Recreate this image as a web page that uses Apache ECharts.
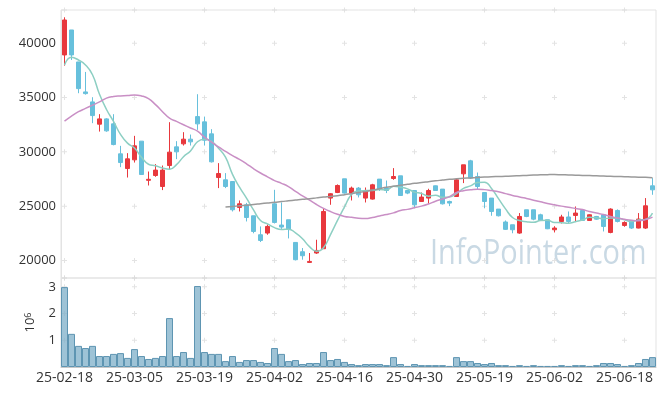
<!DOCTYPE html>
<html><head><meta charset="utf-8">
<script src="https://cdn.jsdelivr.net/npm/echarts@6/dist/echarts.min.js"></script>
<style>html,body{margin:0;padding:0;background:#fff}#c{width:665px;height:396px}</style>
</head><body><div id="c"></div>
<script>
const dates=['25-02-18','25-02-19','25-02-20','25-02-21','25-02-24','25-02-25','25-02-26','25-02-27','25-02-28','25-03-04',
'25-03-05','25-03-06','25-03-07','25-03-10','25-03-11','25-03-12','25-03-13','25-03-14','25-03-17','25-03-18',
'25-03-19','25-03-20','25-03-21','25-03-24','25-03-25','25-03-26','25-03-27','25-03-28','25-03-31','25-04-01',
'25-04-02','25-04-03','25-04-04','25-04-07','25-04-08','25-04-09','25-04-10','25-04-11','25-04-14','25-04-15',
'25-04-16','25-04-17','25-04-18','25-04-21','25-04-22','25-04-23','25-04-24','25-04-25','25-04-28','25-04-29',
'25-04-30','25-05-02','25-05-07','25-05-08','25-05-09','25-05-12','25-05-13','25-05-14','25-05-15','25-05-16',
'25-05-19','25-05-20','25-05-21','25-05-22','25-05-23','25-05-26','25-05-27','25-05-28','25-05-29','25-05-30',
'25-06-02','25-06-04','25-06-05','25-06-09','25-06-10','25-06-11','25-06-12','25-06-13','25-06-16','25-06-17',
'25-06-18','25-06-19','25-06-20','25-06-23','25-06-24'];
const openP=[38924,41224,38280,35520,34600,32548,33036,32576,29816,28463,
29264,30984,27378,27820,26807,28739,30460,30736,31168,33247,
32760,31656,27635,27424,27267,24876,25124,24112,22364,22520,
25214,23256,23744,21656,20800,19815,20680,21076,25740,26255,
27516,26200,26660,25740,25648,27488,26660,27544,27792,26440,
26440,25428,25740,26872,26568,25428,25888,27976,29172,27728,
26255,25740,24728,23540,23284,22520,24664,24664,24204,23744,
22824,23587,24000,24140,24600,23680,24048,24204,22576,24600,
23220,23680,22980,22980,26872];
const closeP=[42144,38924,35823,35363,33339,33036,31932,30671,29015,29356,
30552,27912,27470,28316,28316,29972,30000,31168,30920,32576,
31076,29080,28003,26807,24664,25214,23955,22667,21839,23128,
23495,23072,22888,20064,20432,19907,20919,24507,26140,26900,
26200,26660,26044,26347,26964,26596,26440,27728,25980,26200,
25124,25832,26440,26440,25212,25280,27424,28804,27580,26807,
25428,24507,24112,22860,22824,24048,24050,23800,23680,22916,
22980,24000,23587,24360,23680,24204,23800,23128,24728,23587,
23495,22980,23808,25030,26500];
const lowP=[37939,38464,35400,35270,32640,31867,31850,30600,28592,27635,
29015,27900,26900,27700,26476,28344,29328,30580,30580,32024,
30580,29015,26660,26660,24507,24507,23587,22500,21692,22364,
23400,22900,22024,20000,20064,19760,20600,21076,25124,26200,
26150,25520,25800,25336,25600,26400,26200,27424,25980,26100,
24880,25400,25212,26400,25150,25000,25888,27120,27500,26500,
24820,24112,24050,22800,22500,22450,23980,23700,23650,22880,
22576,23400,23400,23587,23650,23650,23750,22667,22500,23500,
23100,22900,22950,22900,26044];
const highP=[42392,41224,38280,37360,35032,33468,33100,33468,30552,29880,
31472,30984,28188,28868,28739,32732,30984,31812,31592,35308,
33247,32088,28960,28040,27267,25520,25300,24112,23128,23312,
26503,25336,23744,21656,21140,20680,21904,24820,26200,27000,
27516,26800,26760,26715,27055,27488,27360,28500,27792,26500,
26440,26255,26600,26900,26568,25500,27500,28804,29264,28096,
26255,25740,24728,23680,23284,24360,24664,24664,24300,23744,
23150,24204,24507,24968,24600,24250,24100,24204,24800,24700,
23600,23680,24360,25740,27580];
const ma5=[38000,38710,38460,38000,37100,35300,33900,32800,31600,30800,
30350,29500,28860,28720,28510,28400,28820,29550,30080,30930,
31150,30960,30330,29510,27930,26750,25730,24660,23670,23360,
23020,22840,22880,22530,21990,21270,20840,21170,22380,23680,
24930,26080,26390,26430,26440,26520,26480,26820,26740,26590,
26290,26170,25920,26010,25810,25840,26160,26630,26860,27180,
27210,26630,25690,24750,23950,23670,23570,23510,23670,23690,
23490,23480,23430,23570,23720,23970,23930,23830,23910,23890,
23750,23580,23720,23780,24360];
const ma20=[32830,33300,33700,34000,34300,34600,34950,35100,35150,35180,
35240,35150,34900,34350,33700,33100,32800,32500,32200,31900,
31350,30900,30450,30050,29650,29300,28900,28450,28050,27700,
27350,27100,26800,26350,25950,25550,25150,24800,24500,24250,
24050,23970,23880,23850,23950,24100,24220,24380,24600,24700,
24850,25000,25200,25450,25650,25880,26250,26420,26500,26560,
26520,26430,26330,26150,25980,25850,25700,25550,25400,25250,
25120,25000,24900,24780,24680,24500,24360,24230,24050,23900,
23790,23700,23660,23760,23990];
const ma60=[null,null,null,null,null,null,null,null,null,null,
null,null,null,null,null,null,null,null,null,null,
null,null,null,24910,24970,25030,25090,25150,25220,25290,
25360,25420,25490,25560,25630,25690,25760,25830,25890,25960,
26050,26150,26250,26350,26480,26600,26730,26820,26920,27010,
27100,27170,27250,27330,27400,27470,27520,27560,27600,27640,
27680,27710,27730,27750,27770,27800,27830,27860,27880,27900,
27910,27890,27870,27850,27830,27810,27790,27770,27750,27730,
27710,27690,27670,27650,27620];
const volumes=[2990000,1240000,790000,710000,790000,410000,410000,490000,520000,340000,
670000,410000,300000,340000,410000,1830000,410000,560000,340000,3030000,
560000,490000,490000,220000,410000,190000,260000,260000,190000,150000,
710000,490000,220000,260000,110000,150000,150000,560000,260000,300000,
190000,110000,70000,110000,110000,110000,70000,370000,110000,40000,
110000,70000,70000,70000,70000,40000,370000,220000,220000,150000,
110000,150000,70000,70000,40000,70000,40000,70000,40000,40000,
40000,70000,40000,70000,70000,40000,70000,150000,150000,110000,
40000,70000,150000,300000,370000];
const priceTicks=[20000,25000,30000,35000,40000];
const volTicks=[1000000,2000000,3000000];
const watermark='InfoPointer.com';

const priceMin=18380, priceMax=43064, volMax=3330000;
const FONT='"Open Sans", sans-serif';
const candleData=dates.map((d,i)=>[openP[i],closeP[i],lowP[i],highP[i]]);
const crossPath='path://M2,0H3V2H5V3H3V5H2V3H0V2H2Z';
const priceCross=[], volCross=[];
for(let i=0;i<dates.length;i+=10){
  for(const v of priceTicks.concat([priceMin,priceMax])) priceCross.push([dates[i],v]);
  for(const v of volTicks.concat([volMax])) volCross.push([dates[i],v]);
}
const chart=echarts.init(document.getElementById('c'),null,{renderer:'canvas'});
chart.setOption({
  animation:false,
  textStyle:{fontFamily:FONT},
  grid:[
    {left:61,right:9,top:10,height:268,show:true,borderColor:'#e3e3e3',borderWidth:1},
    {left:61,right:9,top:278,height:89,show:true,borderColor:'#e3e3e3',borderWidth:1}
  ],
  xAxis:[
    {type:'category',data:dates,gridIndex:0,boundaryGap:true,axisLine:{show:false},axisTick:{show:false},axisLabel:{show:false},splitLine:{show:false}},
    {type:'category',data:dates,gridIndex:1,boundaryGap:true,axisLine:{show:true,lineStyle:{color:'#c8c8c8'}},axisTick:{show:false},
     axisLabel:{interval:9,color:'#333',fontSize:14,margin:4,fontFamily:FONT},splitLine:{show:false}}
  ],
  yAxis:[
    {type:'value',gridIndex:0,min:priceMin,max:priceMax,axisLine:{show:true,lineStyle:{color:'#e3e3e3'}},axisTick:{show:false},splitLine:{show:false},
     axisLabel:{color:'#333',fontSize:13,margin:5,fontFamily:FONT,showMinLabel:false,showMaxLabel:false,formatter:v=>(v%5000===0?String(v):'')}},
    {type:'value',gridIndex:1,min:0,max:volMax,interval:1000000,axisLine:{show:true,lineStyle:{color:'#e3e3e3'}},axisTick:{show:false},splitLine:{show:false},
     axisLabel:{color:'#333',fontSize:13,margin:5,fontFamily:FONT,showMaxLabel:false,formatter:v=>((v>0&&v%1000000===0)?String(v/1000000):'')},
     name:'{b|10}{s|6}',nameLocation:'middle',nameRotate:90,nameGap:24,
     nameTextStyle:{rich:{b:{fontSize:13,color:'#333',fontFamily:FONT},s:{fontSize:9,color:'#333',fontFamily:FONT,verticalAlign:'top'}}}}
  ],
  graphic:[{type:'text',x:430,y:254,scaleX:0.85,z:0,silent:true,
    style:{text:watermark,x:0,y:0,verticalAlign:'middle',font:'34px "Open Sans", sans-serif',fill:'#c9d9e4'}}],
  series:[
    {type:'scatter',xAxisIndex:0,yAxisIndex:0,data:priceCross,symbol:crossPath,symbolSize:5,clip:false,z:1,silent:true,itemStyle:{color:'#dcdcdc'}},
    {type:'scatter',xAxisIndex:1,yAxisIndex:1,data:volCross,symbol:crossPath,symbolSize:5,clip:false,z:1,silent:true,itemStyle:{color:'#dcdcdc'}},
    {type:'candlestick',xAxisIndex:0,yAxisIndex:0,data:candleData,barWidth:5,z:3,
     itemStyle:{color:'#e8383d',color0:'#67c0dc',borderColor:'#e8383d',borderColor0:'#67c0dc',borderWidth:1}},
    {type:'line',xAxisIndex:0,yAxisIndex:0,data:ma5,smooth:true,showSymbol:false,z:4,lineStyle:{width:1.5,color:'#8dcfc3'}},
    {type:'line',xAxisIndex:0,yAxisIndex:0,data:ma20,smooth:true,showSymbol:false,z:4,lineStyle:{width:1.5,color:'#c98fc5'}},
    {type:'line',xAxisIndex:0,yAxisIndex:0,data:ma60,smooth:true,showSymbol:false,z:4,lineStyle:{width:1.5,color:'#9a9a9a'}},
    {type:'bar',xAxisIndex:1,yAxisIndex:1,data:volumes,barCategoryGap:'0%',z:3,
     itemStyle:{color:'rgba(125,175,200,0.75)',borderColor:'#5e95b2',borderWidth:1}}
  ]
});
</script></body></html>
